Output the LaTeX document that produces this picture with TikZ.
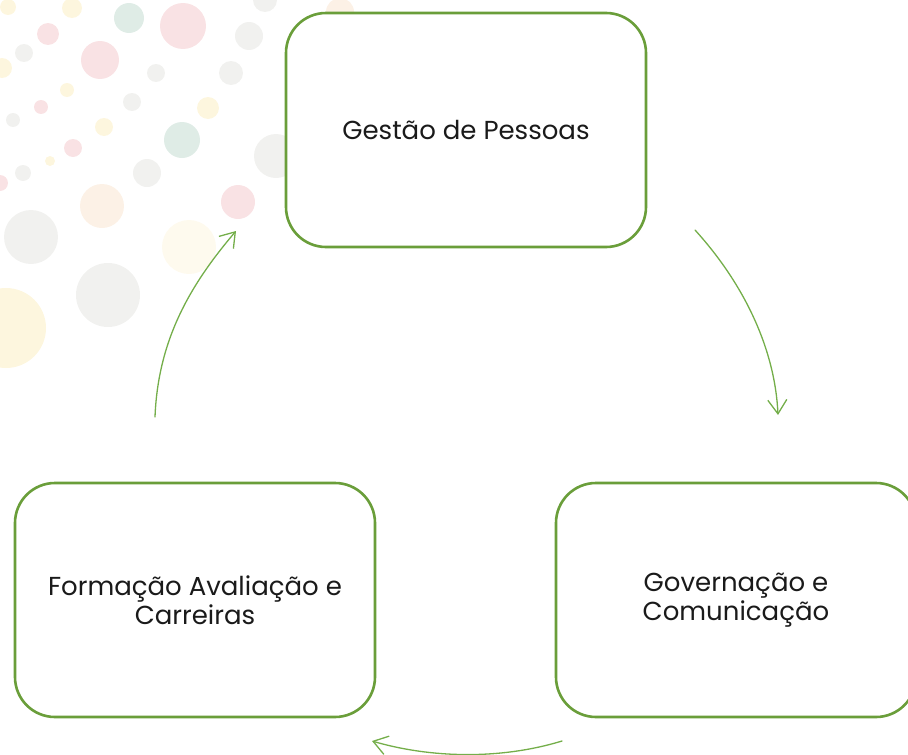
\documentclass[tikz,border=0pt]{standalone}
\usepackage{fontspec}
\setmainfont{Poppins}
\usetikzlibrary{arrows.meta}
\definecolor{leaf}{HTML}{6A9E3A}
\definecolor{stem}{HTML}{74AE4A}
\definecolor{ink}{HTML}{1A1A1A}
\definecolor{dpink}{HTML}{F9E2E4}
\definecolor{dteal}{HTML}{DFECE6}
\definecolor{dgrey}{HTML}{F1F1EF}
\definecolor{dyell}{HTML}{FDF6DE}
\definecolor{dpeach}{HTML}{FCF1E6}
\tikzset{
  box/.style={draw=leaf, line width=2.6pt, fill=white, rounded corners=40pt,
    minimum width=360pt, minimum height=234pt, align=center, text=ink,
    font=\fontsize{26}{29}\selectfont},
  flow/.style={draw=stem, line width=1.3pt, line cap=round,
    -{Straight Barb[length=14pt, width=19pt, line width=1.3pt]}},
}

\begin{document}
\begin{tikzpicture}[x=1pt, y=-1pt]
  \useasboundingbox (0,0) rectangle (908,755);
  % background dots
  \fill[dyell] (8,7) circle (8pt);
  \fill[dyell] (72,8) circle (10pt);
  \fill[dteal] (129,18) circle (15pt);
  \fill[dpink] (183,26) circle (23pt);
  \fill[dgrey] (265,0) circle (12pt);
  \fill[dpink] (48,34) circle (11pt);
  \fill[dgrey] (24,53) circle (9pt);
  \fill[dpink] (100,60) circle (19pt);
  \fill[dgrey] (249,36) circle (14pt);
  \fill[dgrey] (156,73) circle (9pt);
  \fill[dgrey] (231,73) circle (12pt);
  \fill[dyell] (2,68) circle (10pt);
  \fill[dyell] (67,90) circle (7pt);
  \fill[dgrey] (132,102) circle (9pt);
  \fill[dyell] (208,108) circle (11pt);
  \fill[dpink] (41,107) circle (7pt);
  \fill[dgrey] (13,120) circle (7pt);
  \fill[dyell] (104,127) circle (9pt);
  \fill[dteal] (182,140) circle (18pt);
  \fill[dpink] (73,148) circle (9pt);
  \fill[dgrey] (276,156) circle (22pt);
  \fill[dyell] (50,161) circle (5pt);
  \fill[dgrey] (23,173) circle (8pt);
  \fill[dgrey] (147,173) circle (14pt);
  \fill[dpink] (0,183) circle (8pt);
  \fill[dpink] (238,202) circle (17pt);
  \fill[dpeach] (102,206) circle (22pt);
  \fill[dgrey] (31,237) circle (27pt);
  \fill[dyell!50] (189,247) circle (27pt);
  \fill[dgrey] (108,295) circle (32pt);
  \fill[dyell] (6,328) circle (40pt);
  \fill[dpeach] (340,12) circle (14pt);
  % boxes
  \node[box] (gestao) at (466,130) {Gestão de Pessoas};
  \node[box] (governa) at (736,600) {Governação e\\Comunicação};
  \node[box] (formacao) at (195,600) {Formação Avaliação e\\Carreiras};
  % arrow ends
  \coordinate (g1) at (695,230);
  \coordinate (g2) at (778,415);
  \coordinate (b1) at (562,741);
  \coordinate (b2) at (372,741);
  \coordinate (f1) at (155,417);
  \coordinate (f2) at (236,231);
  \draw[flow] (g1) .. controls (745,285) and (775,350) .. (g2);
  \draw[flow] (b1) .. controls (500,760) and (430,758) .. (b2);
  \draw[flow] (f1) .. controls (158,340) and (190,285) .. (f2);
\end{tikzpicture}
\end{document}
